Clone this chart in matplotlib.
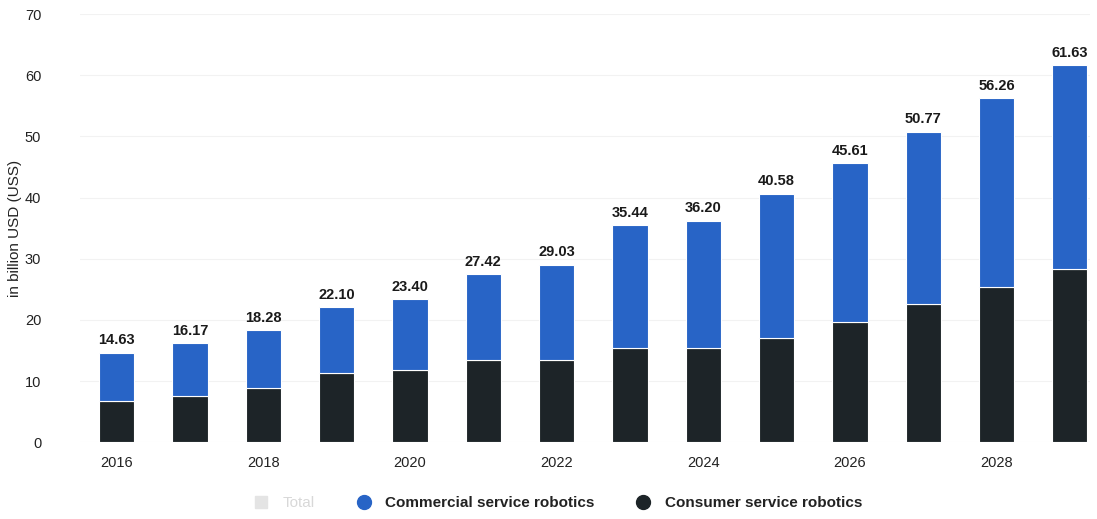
import numpy as np
import matplotlib.pyplot as plt
from matplotlib.lines import Line2D

plt.rcParams['font.family'] = ['Liberation Sans', 'DejaVu Sans']

# Data
years = [2016, 2017, 2018, 2019, 2020, 2021, 2022, 2023, 2024, 2025, 2026, 2027, 2028, 2029]
totals = [14.63, 16.17, 18.28, 22.10, 23.40, 27.42, 29.03, 35.44, 36.20, 40.58, 45.61, 50.77, 56.26, 61.63]
consumer = [6.7, 7.6, 8.8, 11.3, 11.8, 13.4, 13.4, 15.4, 15.4, 17.1, 19.7, 22.6, 25.4, 28.3]
commercial = [t - c for t, c in zip(totals, consumer)]
tick_years = [2016, 2018, 2020, 2022, 2024, 2026, 2028]

blue = '#2864c6'
dark = '#1d2428'

fig = plt.figure(figsize=(10.97, 5.19), dpi=100)
ax = fig.add_axes([0.073, 0.148, 0.921, 0.825])

x = np.arange(len(years))
w = 0.48
ax.bar(x, consumer, width=w, color=dark, edgecolor='white', linewidth=0.8, zorder=3)
ax.bar(x, commercial, width=w, bottom=consumer, color=blue, edgecolor='white', linewidth=0.8, zorder=3)

for xi, t in zip(x, totals):
    ax.text(xi, t + 0.9, f'{t:.2f}', ha='center', va='bottom', fontsize=10.5,
            fontweight='bold', color='#1a1a1a')

ax.set_ylim(0, 70)
ax.set_yticks(range(0, 71, 10))
ax.set_xlim(-0.5, 13.28)
ax.set_xticks([years.index(y) for y in tick_years])
ax.set_xticklabels([str(y) for y in tick_years])
ax.tick_params(axis='both', length=0, labelsize=10.5, colors='#222222')
ax.tick_params(axis='x', pad=10)
ax.tick_params(axis='y', pad=28)
ax.set_ylabel('in billion USD (USS)', fontsize=11, color='#222222')
ax.yaxis.set_label_coords(-0.057, 0.5)
ax.grid(axis='y', color='#f2f2f2', linewidth=0.8, zorder=0)
for s in ax.spines.values():
    s.set_visible(False)

handles = [
    Line2D([], [], marker='s', linestyle='', markersize=9, color='#e4e4e4'),
    Line2D([], [], marker='o', linestyle='', markersize=10, color=blue),
    Line2D([], [], marker='o', linestyle='', markersize=10, color=dark),
]
leg = fig.legend(handles, ['Total', 'Commercial service robotics', 'Consumer service robotics'],
                 loc='center', bbox_to_anchor=(0.505, 0.03), ncol=3, frameon=False,
                 fontsize=11, handletextpad=0.4, columnspacing=2.2)
cols = ['#d8d8d8', '#222222', '#222222']
for txt, c in zip(leg.get_texts(), cols):
    txt.set_color(c)
    if c != '#d8d8d8':
        txt.set_fontweight('bold')

fig.savefig('out.png', dpi=100)
